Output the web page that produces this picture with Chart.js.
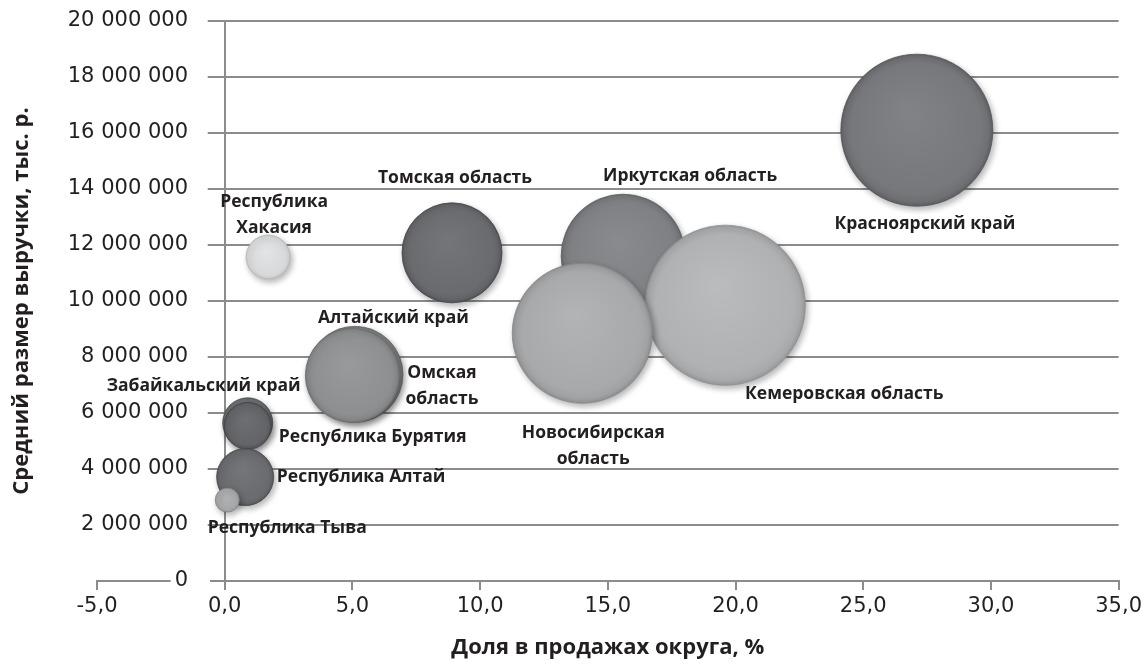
<!DOCTYPE html>
<html lang="ru">
<head>
<meta charset="utf-8">
<title>Доля в продажах и выручка по регионам</title>
<script src="https://cdn.jsdelivr.net/npm/chart.js@4.4.1/dist/chart.umd.min.js"></script>
<style>
  html, body { margin: 0; padding: 0; background: #fff; }
  #wrap { width: 1146px; height: 671px; }
</style>
</head>
<body>
<div id="wrap"><canvas id="chart"></canvas></div>
<script>
// data, in drawing order (back to front)
const regions = [
  ['Красноярский край'],
  ['Иркутская область'],
  ['Кемеровская область'],
  ['Новосибирская', 'область'],
  ['Томская область'],
  ['Республика', 'Хакасия'],
  ['Омская', 'область'],
  ['Алтайский край'],
  ['Забайкальский край'],
  ['Республика Бурятия'],
  ['Республика Алтай'],
  ['Республика Тыва'],
];
const share   = [27.1, 15.6, 19.6, 14.0, 8.9, 1.7, 5.1, 5.0, 0.9, 0.9, 0.8, 0.1];            // %
const revenue = [16100000, 11600000, 9850000, 8850000, 11720000, 11570000,
                 7380000, 7340000, 5650000, 5540000, 3710000, 2890000];                    // тыс. р.
const bubbleSize = [76, 62, 80, 70, 50, 22, 48, 47, 25, 23.5, 28.5, 12];

const xTickValues = [-5, 0, 5, 10, 15, 20, 25, 30, 35];
const yTickValues = [0, 2000000, 4000000, 6000000, 8000000, 10000000, 12000000, 14000000, 16000000, 18000000, 20000000];

const xTitle = 'Доля в продажах округа, %';
const yTitle = 'Средний размер выручки, тыс. р.';

// styles
const fills = ['#77787b', '#7f8083', '#b0b1b3', '#a8a9ab', '#6a6b6e', '#d8d9da',
               '#8a8b8d', '#8e8f91', '#707174', '#636467', '#6a6b6e', '#a6a7a9'];
const labelOffsets = [            // label centre relative to bubble centre, px
  [8, 94], [67, -80], [119, 89], [11, 100], [3, -75], [6, -55],
  [87, -1], [41, -57], [-44, -37], [125, 11], [116, 0], [60, 28],
];
const textColor = '#231f20';
const axisGray = '#8c8c8c';
const tickFont = { family: 'DejaVu Sans', size: 21 };
const titleFont = { family: 'Open Sans', weight: 'bold', size: 22 };
const labelFont = 'bold 17.5px "Open Sans"';

const fmtRevenue = v => String(v).replace(/\B(?=(\d{3})+(?!\d))/g, ' ');
const fmtShare = v => v.toFixed(1).replace('.', ',');

function shade(hex, amt) {
  const n = parseInt(hex.slice(1), 16);
  const c = [n >> 16, (n >> 8) & 255, n & 255].map(v => Math.max(0, Math.min(255, v + amt)));
  return `rgb(${c[0]},${c[1]},${c[2]})`;
}

// right edge of y tick labels sits at 188px; mirrored labels need padding from the plot edge
const plotLeft = 97;
const meter = document.createElement('canvas').getContext('2d');
meter.font = `${tickFont.size}px ${tickFont.family}`;
const widestY = Math.max(...yTickValues.map(v => meter.measureText(fmtRevenue(v)).width));
const yLabelPad = 188 - plotLeft - widestY;

function bubbleFill(c) {
  const i = c.dataIndex;
  const base = fills[i] || fills[0];
  const scales = c.chart && c.chart.scales;
  if (c.type !== 'data' || !c.parsed || !c.raw || !scales || !scales.x || !scales.y) return base;
  const cx = scales.x.getPixelForValue(c.parsed.x);
  const cy = scales.y.getPixelForValue(c.parsed.y);
  const r = c.raw.r;
  if (!isFinite(cx) || !isFinite(cy)) return base;
  const g = c.chart.ctx.createRadialGradient(cx - r * 0.1, cy - r * 0.25, r * 0.05, cx, cy, r);
  g.addColorStop(0, shade(base, 10));
  g.addColorStop(0.85, base);
  g.addColorStop(0.95, shade(base, -8));
  g.addColorStop(1, shade(base, -24));
  return g;
}

const decorations = {
  id: 'decorations',
  beforeDatasetsDraw(chart) {
    const { ctx, chartArea, scales: { x, y } } = chart;
    const from = x.getPixelForValue(0) - 17;
    ctx.save();
    ctx.strokeStyle = axisGray;
    ctx.lineWidth = 2;
    y.ticks.forEach(t => {
      if (t.value === 0) return;
      const py = Math.round(y.getPixelForValue(t.value));
      ctx.beginPath();
      ctx.moveTo(from, py);
      ctx.lineTo(chartArea.right, py);
      ctx.stroke();
    });
    ctx.restore();
    ctx.save();
    ctx.shadowColor = 'rgba(0,0,0,0.3)';
    ctx.shadowBlur = 6;
    ctx.shadowOffsetX = 2;
    ctx.shadowOffsetY = 3;
  },
  afterDatasetsDraw(chart) {
    const ctx = chart.ctx;
    ctx.restore();
    const pts = chart.getDatasetMeta(0).data;
    ctx.save();
    ctx.font = labelFont;
    ctx.fillStyle = textColor;
    ctx.textAlign = 'center';
    ctx.textBaseline = 'middle';
    pts.forEach((p, i) => {
      const [dx, dy] = labelOffsets[i];
      regions[i].forEach((line, k) => ctx.fillText(line, p.x + dx, p.y + dy + k * 26));
    });
    ctx.restore();
  },
};

new Chart(document.getElementById('chart'), {
  type: 'bubble',
  data: {
    datasets: [{
      label: 'Регионы',
      data: share.map((v, i) => ({ x: v, y: revenue[i], r: bubbleSize[i] })),
      backgroundColor: bubbleFill,
      borderColor: c => shade(fills[c.dataIndex] || fills[0], -34),
      borderWidth: 0.8,
    }],
  },
  options: {
    responsive: true,
    maintainAspectRatio: false,
    animation: false,
    events: [],
    layout: { autoPadding: false, padding: { top: 21, right: 25, bottom: 0, left: 0 } },
    plugins: { legend: { display: false }, tooltip: { enabled: false } },
    scales: {
      x: {
        type: 'linear', position: 'bottom', min: -5, max: 35,
        afterBuildTicks: s => { s.ticks = xTickValues.map(v => ({ value: v })); },
        afterFit: s => { s.height = 90; },
        grid: {
          color: c => (c.tick && c.tick.value === 0 ? axisGray : 'transparent'),
          lineWidth: 2, tickColor: axisGray, tickLength: 9,
        },
        border: { color: axisGray, width: 2 },
        ticks: { font: tickFont, color: textColor, padding: 4, maxRotation: 0, callback: v => fmtShare(v) },
        title: {
          display: true, text: xTitle, color: textColor, font: titleFont,
          padding: { top: 0, bottom: 10 },
        },
      },
      y: {
        type: 'linear', position: 'left', min: 0, max: 20000000,
        afterBuildTicks: s => { s.ticks = yTickValues.map(v => ({ value: v })); },
        afterFit: s => { s.width = plotLeft; },
        grid: { display: false },
        border: { display: false },
        ticks: {
          mirror: true, crossAlign: 'far', padding: yLabelPad, z: 1,
          font: tickFont, color: textColor, callback: v => fmtRevenue(v),
          showLabelBackdrop: c => !!(c.tick && c.tick.value === 0),
          backdropColor: '#fff',
          backdropPadding: { top: 2, bottom: 2, left: 4, right: 22 },
        },
        title: {
          display: true, text: yTitle, color: textColor, font: titleFont,
          padding: { top: 9, bottom: 0 },
        },
      },
    },
  },
  plugins: [decorations],
});
</script>
</body>
</html>
